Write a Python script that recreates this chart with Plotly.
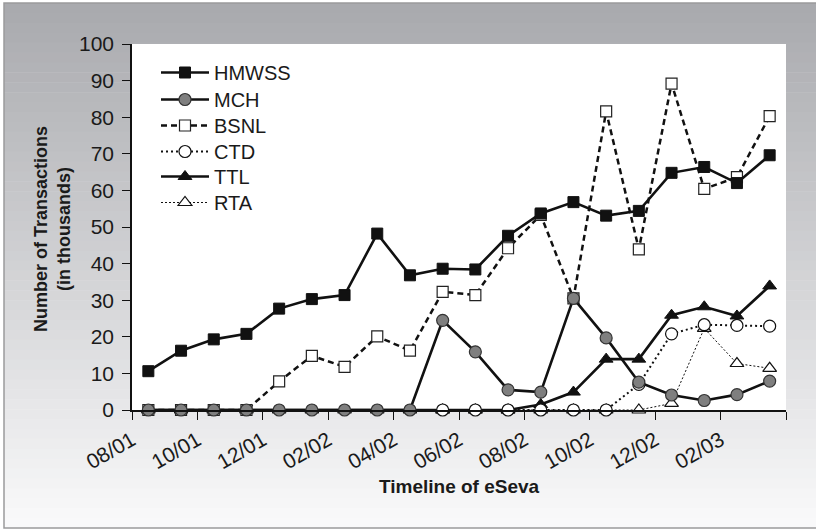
import numpy as np
import plotly.graph_objects as go

# ---------------- data ----------------
months = ["08/01", "09/01", "10/01", "11/01", "12/01", "01/02", "02/02", "03/02",
          "04/02", "05/02", "06/02", "07/02", "08/02", "09/02", "10/02", "11/02",
          "12/02", "01/03", "02/03", "03/03"]
tick_labels = ["08/01", "10/01", "12/01", "02/02", "04/02", "06/02", "08/02",
               "10/02", "12/02", "02/03", ""]

hmwss = [10.6, 16.2, 19.3, 20.8, 27.7, 30.3, 31.4, 48.2, 36.8, 38.6,
         38.4, 47.6, 53.7, 56.8, 53.1, 54.4, 64.8, 66.4, 62.0, 69.6]
mch = [0, 0, 0, 0, 0, 0, 0, 0, 0, 24.5,
       15.9, 5.5, 4.9, 30.5, 19.7, 7.6, 4.1, 2.6, 4.2, 7.9]
bsnl = [0, 0, 0, 0, 7.8, 14.8, 11.8, 20.1, 16.2, 32.3,
        31.4, 44.2, 53.3, 30.5, 81.6, 43.9, 89.2, 60.4, 63.6, 80.3]
ctd = [None, None, None, None, None, None, None, None, None, 0,
       0, 0, 0, 0, 0, 7.0, 20.8, 23.3, 23.1, 22.9]
ttl = [0, 0, 0, 0, 0, 0, 0, 0, 0, 0,
       0, 0, 1.5, 4.9, 13.9, 13.9, 25.9, 28.2, 25.7, 33.9]
rta = [None, None, None, None, None, None, None, None, None, 0,
       0, 0, 0, 0, 0, 0, 1.8, 22.3, 12.7, 11.4]

# ---------------- layout geometry ----------------
W, H = 816, 530
ML, MR, MT, MB = 132, 30, 44, 120
PW, PH = W - ML - MR, H - MT - MB

def px_x(p):
    return (p - ML) / PW

def px_y(p):
    return (H - MB - p) / PH

x = np.arange(len(months)) + 0.5
FONT = "Liberation Sans, Arial, sans-serif"

fig = go.Figure()

legend_rows = {"HMWSS": 73, "MCH": 100, "BSNL": 126, "CTD": 152, "TTL": 177, "RTA": 203}
legend_ids = {"HMWSS": "legend", "MCH": "legend2", "BSNL": "legend3",
              "CTD": "legend4", "TTL": "legend5", "RTA": "legend6"}

def add(name, y, line, marker):
    fig.add_trace(go.Scatter(
        x=x, y=y, name=name, mode="lines+markers", legend=legend_ids[name],
        line=line, marker=marker, cliponaxis=False, connectgaps=False,
    ))

# drawing order: bottom to top
add("RTA", rta, dict(color="#111", width=1, dash="2px,2px"),
    dict(symbol="triangle-up", size=12, color="white", line=dict(color="#111", width=1.2)))
add("TTL", ttl, dict(color="#111", width=2.6),
    dict(symbol="triangle-up", size=12, color="#111", line=dict(color="#111", width=1)))
add("CTD", ctd, dict(color="#111", width=2, dash="2px,3px"),
    dict(symbol="circle", size=12, color="white", line=dict(color="#111", width=1.2)))
add("BSNL", bsnl, dict(color="#111", width=2.5, dash="6px,4px"),
    dict(symbol="square", size=11, color="white", line=dict(color="#222", width=1.2)))
add("MCH", mch, dict(color="#111", width=2.6),
    dict(symbol="circle", size=12, color="#7f7f7f", line=dict(color="#333", width=1.2)))
add("HMWSS", hmwss, dict(color="#111", width=2.6),
    dict(symbol="square", size=11, color="#111", line=dict(color="#111", width=1)))

# ---------------- background (vertical gradient panel) ----------------
shapes = []
top_c = np.array([168, 169, 173])
bot_c = np.array([250, 250, 251])
y0px, y1px = 3, 528
n = 53
for i in range(n):
    a = y0px + (y1px - y0px) * i / n
    b = y0px + (y1px - y0px) * (i + 1) / n
    t = (i + 0.5) / n
    c = top_c + (bot_c - top_c) * t
    shapes.append(dict(type="rect", xref="paper", yref="paper", layer="below",
                       x0=px_x(4), x1=px_x(W + 5), y0=px_y(b + 0.5), y1=px_y(a),
                       fillcolor="rgb(%d,%d,%d)" % tuple(c.round()), line=dict(width=0)))
shapes.append(dict(type="rect", xref="paper", yref="paper", layer="below",
                   x0=px_x(4), x1=px_x(W + 5), y0=px_y(528), y1=px_y(3),
                   fillcolor="rgba(0,0,0,0)", line=dict(color="#9a9a9c", width=1.5)))
shapes.append(dict(type="rect", xref="paper", yref="paper", layer="below",
                   x0=0, x1=1, y0=0, y1=1, fillcolor="white", line=dict(width=0)))

legend_layouts = {}
for name, row in legend_rows.items():
    legend_layouts[legend_ids[name]] = dict(
        x=px_x(156), y=px_y(row - 20), xanchor="left", yanchor="top",
        bgcolor="rgba(0,0,0,0)", borderwidth=0, itemwidth=48,
        font=dict(family=FONT, size=20, color="#1a1a1a"))

fig.update_layout(
    width=W, height=H,
    margin=dict(l=ML, r=MR, t=MT, b=MB, pad=0),
    paper_bgcolor="white", plot_bgcolor="white",
    font=dict(family=FONT, size=20, color="#1a1a1a"),
    shapes=shapes,
    showlegend=True,
    **legend_layouts,
    xaxis=dict(range=[0, len(months)], tickmode="array",
               tickvals=np.arange(0, len(months) + 1, 2), ticktext=tick_labels,
               tickangle=-30, ticks="outside", ticklen=8, tickwidth=1.3,
               tickcolor="#111", showline=True, linecolor="#111", linewidth=1.5,
               showgrid=False, zeroline=False, tickfont=dict(size=21)),
    yaxis=dict(range=[0, 100], tickmode="linear", tick0=0, dtick=10,
               ticks="outside", ticklen=8, tickwidth=1.3, tickcolor="#111",
               showline=True, linecolor="#111", linewidth=1.5, ticklabelstandoff=4,
               showgrid=False, zeroline=False, tickfont=dict(size=21)),
    annotations=[
        dict(text="<b>Number of Transactions<br>(in thousands)</b>",
             xref="paper", yref="paper", x=px_x(52), y=px_y(229),
             xanchor="center", yanchor="middle", textangle=-90, showarrow=False,
             font=dict(family=FONT, size=18, color="#1a1a1a")),
        dict(text="<b>Timeline of eSeva</b>",
             xref="paper", yref="paper", x=px_x(460), y=px_y(487),
             xanchor="center", yanchor="middle", showarrow=False,
             font=dict(family=FONT, size=19, color="#1a1a1a")),
    ],
)

fig.write_html("out.html", config={"displayModeBar": False},
               post_script="document.body.style.margin='0';")
